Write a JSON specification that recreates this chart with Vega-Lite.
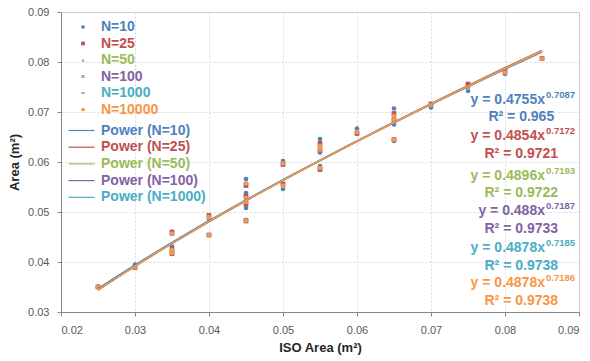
{
  "$schema": "https://vega.github.io/schema/vega-lite/v6.json",
  "width": 518,
  "height": 300,
  "autosize": "none",
  "padding": {"left": 61, "top": 12, "right": 11, "bottom": 49},
  "config": {
    "view": {"stroke": "#BFBFBF"},
    "font": "Liberation Sans",
    "axis": {
      "labelFont": "Liberation Sans", "labelFontSize": 11, "labelColor": "#595959",
      "tickColor": "#868686", "domainColor": "#868686", "tickSize": 4,
      "gridColor": "#D9D9D9", "gridDash": [2, 2],
      "titleFont": "Liberation Sans", "titleFontSize": 13, "titleFontWeight": "bold", "titleColor": "#262626"
    },
    "legend": {"labelFont": "Liberation Sans"}
  },
  "datasets": {
    "pts": [
      {"series":"N=10","fit":"Power (N=10)","iso":0.025,"area":0.0351},
      {"series":"N=10","fit":"Power (N=10)","iso":0.03,"area":0.0395},
      {"series":"N=10","fit":"Power (N=10)","iso":0.035,"area":0.0461},
      {"series":"N=10","fit":"Power (N=10)","iso":0.035,"area":0.0431},
      {"series":"N=10","fit":"Power (N=10)","iso":0.035,"area":0.0416},
      {"series":"N=10","fit":"Power (N=10)","iso":0.04,"area":0.0486},
      {"series":"N=10","fit":"Power (N=10)","iso":0.04,"area":0.0454},
      {"series":"N=10","fit":"Power (N=10)","iso":0.045,"area":0.0566},
      {"series":"N=10","fit":"Power (N=10)","iso":0.045,"area":0.0538},
      {"series":"N=10","fit":"Power (N=10)","iso":0.045,"area":0.0508},
      {"series":"N=10","fit":"Power (N=10)","iso":0.045,"area":0.0484},
      {"series":"N=10","fit":"Power (N=10)","iso":0.05,"area":0.0602},
      {"series":"N=10","fit":"Power (N=10)","iso":0.05,"area":0.0546},
      {"series":"N=10","fit":"Power (N=10)","iso":0.055,"area":0.0646},
      {"series":"N=10","fit":"Power (N=10)","iso":0.055,"area":0.0619},
      {"series":"N=10","fit":"Power (N=10)","iso":0.055,"area":0.0592},
      {"series":"N=10","fit":"Power (N=10)","iso":0.06,"area":0.0667},
      {"series":"N=10","fit":"Power (N=10)","iso":0.065,"area":0.0707},
      {"series":"N=10","fit":"Power (N=10)","iso":0.065,"area":0.0675},
      {"series":"N=10","fit":"Power (N=10)","iso":0.065,"area":0.0642},
      {"series":"N=10","fit":"Power (N=10)","iso":0.07,"area":0.0709},
      {"series":"N=10","fit":"Power (N=10)","iso":0.075,"area":0.0742},
      {"series":"N=10","fit":"Power (N=10)","iso":0.08,"area":0.0776},
      {"series":"N=10","fit":"Power (N=10)","iso":0.085,"area":0.0808},

      {"series":"N=25","fit":"Power (N=25)","iso":0.025,"area":0.0350},
      {"series":"N=25","fit":"Power (N=25)","iso":0.03,"area":0.0389},
      {"series":"N=25","fit":"Power (N=25)","iso":0.035,"area":0.0459},
      {"series":"N=25","fit":"Power (N=25)","iso":0.035,"area":0.0425},
      {"series":"N=25","fit":"Power (N=25)","iso":0.035,"area":0.0417},
      {"series":"N=25","fit":"Power (N=25)","iso":0.04,"area":0.0493},
      {"series":"N=25","fit":"Power (N=25)","iso":0.04,"area":0.0454},
      {"series":"N=25","fit":"Power (N=25)","iso":0.045,"area":0.0553},
      {"series":"N=25","fit":"Power (N=25)","iso":0.045,"area":0.0532},
      {"series":"N=25","fit":"Power (N=25)","iso":0.045,"area":0.0516},
      {"series":"N=25","fit":"Power (N=25)","iso":0.045,"area":0.0482},
      {"series":"N=25","fit":"Power (N=25)","iso":0.05,"area":0.0595},
      {"series":"N=25","fit":"Power (N=25)","iso":0.05,"area":0.0556},
      {"series":"N=25","fit":"Power (N=25)","iso":0.055,"area":0.0637},
      {"series":"N=25","fit":"Power (N=25)","iso":0.055,"area":0.0624},
      {"series":"N=25","fit":"Power (N=25)","iso":0.055,"area":0.0585},
      {"series":"N=25","fit":"Power (N=25)","iso":0.06,"area":0.0657},
      {"series":"N=25","fit":"Power (N=25)","iso":0.065,"area":0.0697},
      {"series":"N=25","fit":"Power (N=25)","iso":0.065,"area":0.0684},
      {"series":"N=25","fit":"Power (N=25)","iso":0.065,"area":0.0645},
      {"series":"N=25","fit":"Power (N=25)","iso":0.07,"area":0.0716},
      {"series":"N=25","fit":"Power (N=25)","iso":0.075,"area":0.0756},
      {"series":"N=25","fit":"Power (N=25)","iso":0.08,"area":0.0781},
      {"series":"N=25","fit":"Power (N=25)","iso":0.085,"area":0.0807},

      {"series":"N=50","fit":"Power (N=50)","iso":0.025,"area":0.0350},
      {"series":"N=50","fit":"Power (N=50)","iso":0.03,"area":0.0390},
      {"series":"N=50","fit":"Power (N=50)","iso":0.035,"area":0.0457},
      {"series":"N=50","fit":"Power (N=50)","iso":0.035,"area":0.0423},
      {"series":"N=50","fit":"Power (N=50)","iso":0.035,"area":0.0419},
      {"series":"N=50","fit":"Power (N=50)","iso":0.04,"area":0.0489},
      {"series":"N=50","fit":"Power (N=50)","iso":0.04,"area":0.0454},
      {"series":"N=50","fit":"Power (N=50)","iso":0.045,"area":0.0558},
      {"series":"N=50","fit":"Power (N=50)","iso":0.045,"area":0.0529},
      {"series":"N=50","fit":"Power (N=50)","iso":0.045,"area":0.0521},
      {"series":"N=50","fit":"Power (N=50)","iso":0.045,"area":0.0483},
      {"series":"N=50","fit":"Power (N=50)","iso":0.05,"area":0.0598},
      {"series":"N=50","fit":"Power (N=50)","iso":0.05,"area":0.0552},
      {"series":"N=50","fit":"Power (N=50)","iso":0.055,"area":0.0633},
      {"series":"N=50","fit":"Power (N=50)","iso":0.055,"area":0.0626},
      {"series":"N=50","fit":"Power (N=50)","iso":0.055,"area":0.0588},
      {"series":"N=50","fit":"Power (N=50)","iso":0.06,"area":0.0661},
      {"series":"N=50","fit":"Power (N=50)","iso":0.065,"area":0.0693},
      {"series":"N=50","fit":"Power (N=50)","iso":0.065,"area":0.0685},
      {"series":"N=50","fit":"Power (N=50)","iso":0.065,"area":0.0645},
      {"series":"N=50","fit":"Power (N=50)","iso":0.07,"area":0.0714},
      {"series":"N=50","fit":"Power (N=50)","iso":0.075,"area":0.0749},
      {"series":"N=50","fit":"Power (N=50)","iso":0.08,"area":0.0779},
      {"series":"N=50","fit":"Power (N=50)","iso":0.085,"area":0.0807},

      {"series":"N=100","fit":"Power (N=100)","iso":0.025,"area":0.0350},
      {"series":"N=100","fit":"Power (N=100)","iso":0.03,"area":0.0391},
      {"series":"N=100","fit":"Power (N=100)","iso":0.035,"area":0.0456},
      {"series":"N=100","fit":"Power (N=100)","iso":0.035,"area":0.0424},
      {"series":"N=100","fit":"Power (N=100)","iso":0.035,"area":0.0418},
      {"series":"N=100","fit":"Power (N=100)","iso":0.04,"area":0.0490},
      {"series":"N=100","fit":"Power (N=100)","iso":0.04,"area":0.0454},
      {"series":"N=100","fit":"Power (N=100)","iso":0.045,"area":0.0556},
      {"series":"N=100","fit":"Power (N=100)","iso":0.045,"area":0.0527},
      {"series":"N=100","fit":"Power (N=100)","iso":0.045,"area":0.0519},
      {"series":"N=100","fit":"Power (N=100)","iso":0.045,"area":0.0483},
      {"series":"N=100","fit":"Power (N=100)","iso":0.05,"area":0.0597},
      {"series":"N=100","fit":"Power (N=100)","iso":0.05,"area":0.0554},
      {"series":"N=100","fit":"Power (N=100)","iso":0.055,"area":0.0631},
      {"series":"N=100","fit":"Power (N=100)","iso":0.055,"area":0.0624},
      {"series":"N=100","fit":"Power (N=100)","iso":0.055,"area":0.0588},
      {"series":"N=100","fit":"Power (N=100)","iso":0.06,"area":0.0659},
      {"series":"N=100","fit":"Power (N=100)","iso":0.065,"area":0.0691},
      {"series":"N=100","fit":"Power (N=100)","iso":0.065,"area":0.0683},
      {"series":"N=100","fit":"Power (N=100)","iso":0.065,"area":0.0645},
      {"series":"N=100","fit":"Power (N=100)","iso":0.07,"area":0.0715},
      {"series":"N=100","fit":"Power (N=100)","iso":0.075,"area":0.0750},
      {"series":"N=100","fit":"Power (N=100)","iso":0.08,"area":0.0779},
      {"series":"N=100","fit":"Power (N=100)","iso":0.085,"area":0.0807},

      {"series":"N=1000","fit":"Power (N=1000)","iso":0.025,"area":0.0350},
      {"series":"N=1000","fit":"Power (N=1000)","iso":0.03,"area":0.0390},
      {"series":"N=1000","fit":"Power (N=1000)","iso":0.035,"area":0.0457},
      {"series":"N=1000","fit":"Power (N=1000)","iso":0.035,"area":0.0424},
      {"series":"N=1000","fit":"Power (N=1000)","iso":0.035,"area":0.0418},
      {"series":"N=1000","fit":"Power (N=1000)","iso":0.04,"area":0.0491},
      {"series":"N=1000","fit":"Power (N=1000)","iso":0.04,"area":0.0454},
      {"series":"N=1000","fit":"Power (N=1000)","iso":0.045,"area":0.0557},
      {"series":"N=1000","fit":"Power (N=1000)","iso":0.045,"area":0.0528},
      {"series":"N=1000","fit":"Power (N=1000)","iso":0.045,"area":0.0520},
      {"series":"N=1000","fit":"Power (N=1000)","iso":0.045,"area":0.0483},
      {"series":"N=1000","fit":"Power (N=1000)","iso":0.05,"area":0.0596},
      {"series":"N=1000","fit":"Power (N=1000)","iso":0.05,"area":0.0553},
      {"series":"N=1000","fit":"Power (N=1000)","iso":0.055,"area":0.0632},
      {"series":"N=1000","fit":"Power (N=1000)","iso":0.055,"area":0.0625},
      {"series":"N=1000","fit":"Power (N=1000)","iso":0.055,"area":0.0588},
      {"series":"N=1000","fit":"Power (N=1000)","iso":0.06,"area":0.0660},
      {"series":"N=1000","fit":"Power (N=1000)","iso":0.065,"area":0.0692},
      {"series":"N=1000","fit":"Power (N=1000)","iso":0.065,"area":0.0684},
      {"series":"N=1000","fit":"Power (N=1000)","iso":0.065,"area":0.0645},
      {"series":"N=1000","fit":"Power (N=1000)","iso":0.07,"area":0.0714},
      {"series":"N=1000","fit":"Power (N=1000)","iso":0.075,"area":0.0750},
      {"series":"N=1000","fit":"Power (N=1000)","iso":0.08,"area":0.0779},
      {"series":"N=1000","fit":"Power (N=1000)","iso":0.085,"area":0.0807},

      {"series":"N=10000","fit":"Power (N=10000)","iso":0.025,"area":0.0350},
      {"series":"N=10000","fit":"Power (N=10000)","iso":0.03,"area":0.0390},
      {"series":"N=10000","fit":"Power (N=10000)","iso":0.035,"area":0.0457},
      {"series":"N=10000","fit":"Power (N=10000)","iso":0.035,"area":0.0424},
      {"series":"N=10000","fit":"Power (N=10000)","iso":0.035,"area":0.0418},
      {"series":"N=10000","fit":"Power (N=10000)","iso":0.04,"area":0.0490},
      {"series":"N=10000","fit":"Power (N=10000)","iso":0.04,"area":0.0454},
      {"series":"N=10000","fit":"Power (N=10000)","iso":0.045,"area":0.0557},
      {"series":"N=10000","fit":"Power (N=10000)","iso":0.045,"area":0.0528},
      {"series":"N=10000","fit":"Power (N=10000)","iso":0.045,"area":0.0520},
      {"series":"N=10000","fit":"Power (N=10000)","iso":0.045,"area":0.0483},
      {"series":"N=10000","fit":"Power (N=10000)","iso":0.05,"area":0.0597},
      {"series":"N=10000","fit":"Power (N=10000)","iso":0.05,"area":0.0553},
      {"series":"N=10000","fit":"Power (N=10000)","iso":0.055,"area":0.0632},
      {"series":"N=10000","fit":"Power (N=10000)","iso":0.055,"area":0.0625},
      {"series":"N=10000","fit":"Power (N=10000)","iso":0.055,"area":0.0588},
      {"series":"N=10000","fit":"Power (N=10000)","iso":0.06,"area":0.0660},
      {"series":"N=10000","fit":"Power (N=10000)","iso":0.065,"area":0.0692},
      {"series":"N=10000","fit":"Power (N=10000)","iso":0.065,"area":0.0684},
      {"series":"N=10000","fit":"Power (N=10000)","iso":0.065,"area":0.0645},
      {"series":"N=10000","fit":"Power (N=10000)","iso":0.07,"area":0.0714},
      {"series":"N=10000","fit":"Power (N=10000)","iso":0.075,"area":0.0750},
      {"series":"N=10000","fit":"Power (N=10000)","iso":0.08,"area":0.0779},
      {"series":"N=10000","fit":"Power (N=10000)","iso":0.085,"area":0.0807}
    ],
    "eqs": [
      {"series":"N=10","eq":"y = 0.4755x","sup":"0.7087","iso":0.0854,"area":0.07247},
      {"series":"N=25","eq":"y = 0.4854x","sup":"0.7172","iso":0.0854,"area":0.06512},
      {"series":"N=50","eq":"y = 0.4896x","sup":"0.7193","iso":0.0854,"area":0.05711},
      {"series":"N=100","eq":"y = 0.488x","sup":"0.7187","iso":0.0854,"area":0.05030},
      {"series":"N=1000","eq":"y = 0.4878x","sup":"0.7185","iso":0.0854,"area":0.04282},
      {"series":"N=10000","eq":"y = 0.4878x","sup":"0.7186","iso":0.0854,"area":0.03587}
    ],
    "r2s": [
      {"series":"N=10","r2":"R² = 0.965","iso":0.0822,"area":0.06893},
      {"series":"N=25","r2":"R² = 0.9721","iso":0.0822,"area":0.06165},
      {"series":"N=50","r2":"R² = 0.9722","iso":0.0822,"area":0.05390},
      {"series":"N=100","r2":"R² = 0.9733","iso":0.0822,"area":0.04663},
      {"series":"N=1000","r2":"R² = 0.9738","iso":0.0822,"area":0.03928},
      {"series":"N=10000","r2":"R² = 0.9738","iso":0.0822,"area":0.03227}
    ]
  },
  "layer": [
    {
      "data": {"name": "pts"},
      "mark": {"type": "point", "filled": true, "opacity": 1, "size": 22},
      "encoding": {
        "x": {"field": "iso", "type": "quantitative",
          "scale": {"domain": [0.02, 0.09], "nice": false, "zero": false},
          "axis": {"values": [0.02,0.03,0.04,0.05,0.06,0.07,0.08,0.09], "format": ".2f", "grid": true,
                   "labelPadding": 8, "titlePadding": 6, "title": "ISO Area (m²)"}},
        "y": {"field": "area", "type": "quantitative",
          "scale": {"domain": [0.03, 0.09], "nice": false, "zero": false},
          "axis": {"values": [0.03,0.04,0.05,0.06,0.07,0.08,0.09], "format": ".2f", "grid": true,
                   "labelPadding": 8, "titlePadding": 6, "title": "Area (m²)"}},
        "color": {"field": "series", "type": "nominal",
          "scale": {"domain": ["N=10","N=25","N=50","N=100","N=1000","N=10000"],
                    "range": ["#4F81BD","#C0504D","#9BBB59","#8064A2","#4BACC6","#F79646"]},
          "legend": {"orient": "none", "legendX": 15, "legendY": 8, "title": null,
                     "labelFontSize": 14, "labelFontWeight": "bold", "labelOffset": 11,
                     "rowPadding": 2.5, "padding": 0, "symbolSize": 14,
                     "labelColor": {"expr": "scale('color', datum.value)"}}},
        "shape": {"field": "series", "type": "nominal",
          "scale": {"domain": ["N=10","N=25","N=50","N=100","N=1000","N=10000"],
                    "range": ["circle","square","triangle-up",
                              "M-1,-0.7L-0.7,-1L0,-0.3L0.7,-1L1,-0.7L0.3,0L1,0.7L0.7,1L0,0.3L-0.7,1L-1,0.7L-0.3,0Z",
                              "M-1,-0.35H1V0.35H-1Z","circle"]},
          "legend": {"orient": "none", "legendX": 15, "legendY": 8, "title": null,
                     "labelFontSize": 14, "labelFontWeight": "bold", "labelOffset": 11,
                     "rowPadding": 2.5, "padding": 0, "symbolSize": 14,
                     "labelColor": {"expr": "scale('color', datum.value)"}}}
      }
    },
    {
      "data": {"name": "pts"},
      "transform": [{"regression": "area", "on": "iso", "groupby": ["fit"], "method": "pow", "extent": [0.025, 0.085]}],
      "mark": {"type": "line", "strokeWidth": 1.5},
      "encoding": {
        "x": {"field": "iso", "type": "quantitative"},
        "y": {"field": "area", "type": "quantitative"},
        "stroke": {"field": "fit", "type": "nominal",
          "scale": {"domain": ["Power (N=10)","Power (N=25)","Power (N=50)","Power (N=100)","Power (N=1000)","Power (N=10000)"],
                    "range": ["#4F81BD","#C0504D","#9BBB59","#8064A2","#4BACC6","#F79646"]},
          "legend": {"orient": "none", "legendX": 13.5, "legendY": 111.5, "title": null,
                     "values": ["Power (N=10)","Power (N=25)","Power (N=50)","Power (N=100)","Power (N=1000)"],
                     "symbolType": "M-3,0H3", "symbolSize": 75, "symbolStrokeWidth": 1.2,
                     "labelFontSize": 14, "labelFontWeight": "bold", "labelOffset": 12.5,
                     "rowPadding": 2.7, "padding": 0,
                     "labelColor": {"expr": "scale('stroke', datum.value)"}}}
      }
    },
    {
      "data": {"name": "eqs"},
      "mark": {"type": "text", "align": "right", "baseline": "middle", "fontSize": 14, "fontWeight": "bold", "font": "Liberation Sans"},
      "encoding": {
        "x": {"field": "iso", "type": "quantitative"},
        "y": {"field": "area", "type": "quantitative"},
        "text": {"field": "eq"},
        "color": {"field": "series", "type": "nominal", "legend": null}
      }
    },
    {
      "data": {"name": "eqs"},
      "mark": {"type": "text", "align": "left", "baseline": "middle", "dx": 1, "dy": -5, "fontSize": 9.5, "fontWeight": "bold", "font": "Liberation Sans"},
      "encoding": {
        "x": {"field": "iso", "type": "quantitative"},
        "y": {"field": "area", "type": "quantitative"},
        "text": {"field": "sup"},
        "color": {"field": "series", "type": "nominal", "legend": null}
      }
    },
    {
      "data": {"name": "r2s"},
      "mark": {"type": "text", "align": "center", "baseline": "middle", "fontSize": 14, "fontWeight": "bold", "font": "Liberation Sans"},
      "encoding": {
        "x": {"field": "iso", "type": "quantitative"},
        "y": {"field": "area", "type": "quantitative"},
        "text": {"field": "r2"},
        "color": {"field": "series", "type": "nominal", "legend": null}
      }
    }
  ]
}
